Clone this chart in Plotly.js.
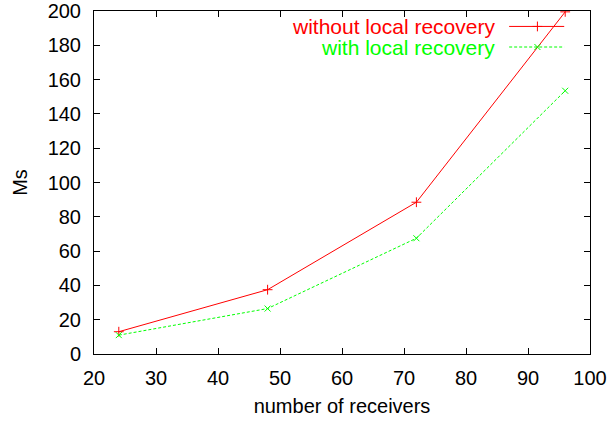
<!DOCTYPE html>
<html><head><meta charset="utf-8">
<script src="https://cdn.plot.ly/plotly-3.0.1.min.js"></script>
<style>body{margin:0;background:#fff}#c{width:616px;height:421px}</style>
</head><body><div id="c"></div>
<script>
const receivers = [24, 48, 72, 96];
const withoutLocal = [13, 37.5, 88.5, 199.5];
const withLocal = [11, 26.5, 67.5, 153.5];
const seriesNames = ["without local recovery", "with local recovery"];
const xTicks = [20, 30, 40, 50, 60, 70, 80, 90, 100];
const yTicks = [0, 20, 40, 60, 80, 100, 120, 140, 160, 180, 200];

const font = {family: "Liberation Sans, Arial, sans-serif", size: 20, color: "#000"};
const traces = [
  {x: receivers, y: withoutLocal, mode: "lines+markers", name: seriesNames[0],
   line: {color: "#ff0000", width: 1},
   marker: {symbol: "cross-thin", size: 7, color: "#ff0000", line: {color: "#ff0000", width: 1}}},
  {x: receivers, y: withLocal, mode: "lines+markers", name: seriesNames[1],
   line: {color: "#00ff00", width: 1, dash: "3px,2px"},
   marker: {symbol: "x-thin", size: 6, color: "#00ff00", line: {color: "#00ff00", width: 1}}}
];
// legend samples (paper coords), gnuplot style
const legY = [0.955, 0.895];
const colors = ["#ff0000", "#00ff00"];
const shapes = [], annotations = [];
seriesNames.forEach((n, i) => {
  annotations.push({xref: "paper", yref: "paper", x: 0.813, y: legY[i], xanchor: "right", yanchor: "middle",
    text: n, showarrow: false, font: Object.assign({}, font, {size: 21, color: colors[i]})});
  shapes.push({type: "line", xref: "paper", yref: "paper", x0: 0.837, x1: 0.948, y0: legY[i], y1: legY[i],
    line: {color: colors[i], width: 1, dash: i ? "3px,2px" : "solid"}});
});
traces.push({x: [0.894], y: [legY[0]], xaxis: "x2", yaxis: "y2", mode: "markers", showlegend: false, hoverinfo: "skip",
  marker: {symbol: "cross-thin", size: 7, line: {color: "#ff0000", width: 1}}});
traces.push({x: [0.894], y: [legY[1]], xaxis: "x2", yaxis: "y2", mode: "markers", showlegend: false, hoverinfo: "skip",
  marker: {symbol: "x-thin", size: 6, line: {color: "#00ff00", width: 1}}});

const axisCommon = {showline: true, linecolor: "#000", linewidth: 1, mirror: "allticks",
  ticks: "inside", ticklen: 6, tickcolor: "#000", showgrid: false, zeroline: false,
  tickfont: font};
const layout = {
  width: 616, height: 421, margin: {l: 94, r: 26, t: 11, b: 67},
  paper_bgcolor: "#fff", plot_bgcolor: "#fff", showlegend: false, font: font,
  xaxis: Object.assign({}, axisCommon, {range: [20, 100], tickvals: xTicks, ticklabelstandoff: 6,
    title: {text: "number of receivers", font: font, standoff: 10}}),
  yaxis: Object.assign({}, axisCommon, {range: [0, 200], tickvals: yTicks, ticklabelstandoff: 8,
    title: {text: "Ms", font: font, standoff: 14}}),
  xaxis2: {overlaying: "x", range: [0, 1], visible: false},
  yaxis2: {overlaying: "y", range: [0, 1], visible: false},
  shapes: shapes, annotations: annotations
};
Plotly.newPlot("c", traces, layout, {staticPlot: true});
</script></body></html>
